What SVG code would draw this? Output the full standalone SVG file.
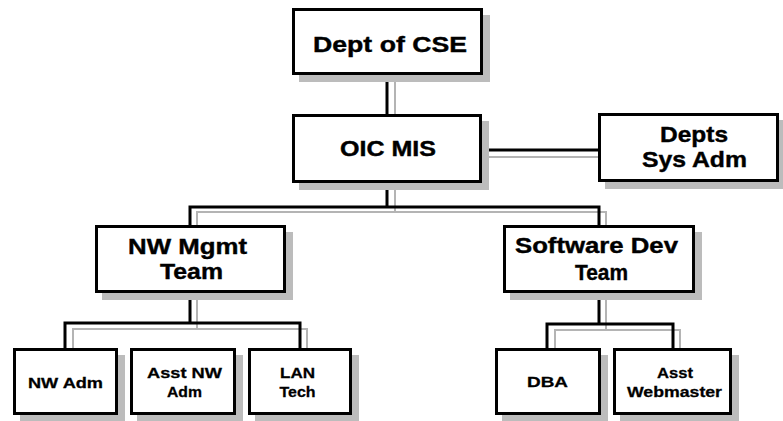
<svg xmlns="http://www.w3.org/2000/svg" width="783" height="421" viewBox="0 0 783 421">
  <style>
    .box { fill: #ffffff; stroke: #000000; stroke-width: 3; }
    .shadow { fill: #bcbcbc; }
    .link { fill: none; stroke: #000000; stroke-width: 3; }
    .link-shadow { fill: none; stroke: #b4b4b4; stroke-width: 2; }
    .lbl { font-family: "Liberation Sans", Arial, sans-serif; font-weight: bold; fill: #000000; stroke: #000000; stroke-width: 0.4; text-anchor: middle; }
    .big { font-size: 22px; }
    .small { font-size: 15.5px; stroke-width: 0.3; }
  </style>
  <rect width="783" height="421" fill="#ffffff"/>

  <!-- connectors: grey drop-shadow lines first, black lines on top -->
  <g id="connectors">
    <g class="link-shadow">
      <path d="M395,80 V117"/>
      <path d="M487,157 H601"/>
      <path d="M395,188 V212 M197,228 V212 H606 V228"/>
      <path d="M197,298 V329 M73,351 V329 H307 V351"/>
      <path d="M606,298 V330 M555,351 V330 H680 V351"/>
    </g>
    <g class="link">
      <path d="M387,75 V114"/>
      <path d="M482,150 H598"/>
      <path d="M387,183 V207 M190,225 V207 H599 V225"/>
      <path d="M190,293 V323 M65,348 V323 H300 V348"/>
      <path d="M599,293 V324 M547,348 V324 H673 V348"/>
    </g>
  </g>

  <g id="dept-cse">
    <rect class="shadow" x="299" y="15" width="191" height="67"/>
    <rect class="box" x="293.5" y="9.5" width="188" height="64"/>
    <text class="lbl big" x="390" y="52" textLength="154" lengthAdjust="spacingAndGlyphs">Dept of CSE</text>
  </g>

  <g id="oic-mis">
    <rect class="shadow" x="299" y="121" width="190" height="69"/>
    <rect class="box" x="293.5" y="115.5" width="187" height="66"/>
    <text class="lbl big" x="388" y="156" textLength="96" lengthAdjust="spacingAndGlyphs">OIC MIS</text>
  </g>

  <g id="depts-sys-adm">
    <rect class="shadow" x="605" y="120" width="178" height="69"/>
    <rect class="box" x="599.5" y="114.5" width="178" height="66"/>
    <text class="lbl big" x="694" y="142" textLength="68" lengthAdjust="spacingAndGlyphs">Depts</text>
    <text class="lbl big" x="694.5" y="167" textLength="105" lengthAdjust="spacingAndGlyphs">Sys Adm</text>
  </g>

  <g id="nw-mgmt-team">
    <rect class="shadow" x="102" y="232" width="191" height="68"/>
    <rect class="box" x="96.5" y="226.5" width="188" height="65"/>
    <text class="lbl big" x="187.5" y="254" textLength="119" lengthAdjust="spacingAndGlyphs">NW Mgmt</text>
    <text class="lbl big" x="191.5" y="279" textLength="63" lengthAdjust="spacingAndGlyphs">Team</text>
  </g>

  <g id="software-dev-team">
    <rect class="shadow" x="510" y="232" width="192" height="68"/>
    <rect class="box" x="504.5" y="226.5" width="189" height="65"/>
    <text class="lbl big" x="596.5" y="253" textLength="163" lengthAdjust="spacingAndGlyphs">Software Dev</text>
    <text class="lbl big" x="601.5" y="280" textLength="53" lengthAdjust="spacingAndGlyphs">Team</text>
  </g>

  <g id="nw-adm">
    <rect class="shadow" x="20" y="355" width="105" height="66"/>
    <rect class="box" x="14.5" y="349.5" width="102" height="64"/>
    <text class="lbl small" x="65.5" y="388" textLength="75" lengthAdjust="spacingAndGlyphs">NW Adm</text>
  </g>

  <g id="asst-nw-adm">
    <rect class="shadow" x="137" y="355" width="106" height="66"/>
    <rect class="box" x="131.5" y="349.5" width="103" height="64"/>
    <text class="lbl small" x="184.5" y="378" textLength="75" lengthAdjust="spacingAndGlyphs">Asst NW</text>
    <text class="lbl small" x="184.5" y="397" textLength="35" lengthAdjust="spacingAndGlyphs">Adm</text>
  </g>

  <g id="lan-tech">
    <rect class="shadow" x="255" y="355" width="104" height="66"/>
    <rect class="box" x="249.5" y="349.5" width="101" height="64"/>
    <text class="lbl small" x="297.5" y="378" textLength="35" lengthAdjust="spacingAndGlyphs">LAN</text>
    <text class="lbl small" x="297.5" y="397" textLength="36" lengthAdjust="spacingAndGlyphs">Tech</text>
  </g>

  <g id="dba">
    <rect class="shadow" x="502" y="355" width="106" height="66"/>
    <rect class="box" x="496.5" y="349.5" width="103" height="64"/>
    <text class="lbl small" x="547.5" y="387" textLength="41" lengthAdjust="spacingAndGlyphs">DBA</text>
  </g>

  <g id="asst-webmaster">
    <rect class="shadow" x="620" y="355" width="119" height="66"/>
    <rect class="box" x="614.5" y="349.5" width="116" height="64"/>
    <text class="lbl small" x="675" y="378" textLength="36" lengthAdjust="spacingAndGlyphs">Asst</text>
    <text class="lbl small" x="674.5" y="397" textLength="95" lengthAdjust="spacingAndGlyphs">Webmaster</text>
  </g>
</svg>
